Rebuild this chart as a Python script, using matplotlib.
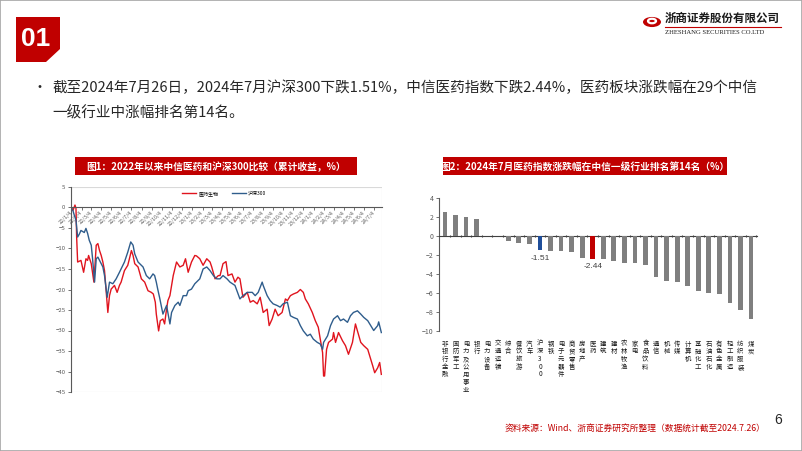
import matplotlib
matplotlib.use("Agg")
import matplotlib.pyplot as plt
import matplotlib.patches as mpatches
import matplotlib.transforms as mtrans
import pandas as pd

plt.rcParams['font.family'] = ['Noto Sans CJK SC', 'DejaVu Sans']

# ---- 图1: cumulative returns since 2022 (%) ----
pharma_dates = [
    "2022-01-04", "2022-01-09", "2022-01-15", "2022-01-18", "2022-01-20", "2022-01-23", "2022-02-02",
    "2022-02-10", "2022-02-17", "2022-02-22", "2022-02-25", "2022-03-05", "2022-03-13", "2022-03-20",
    "2022-03-25", "2022-03-30", "2022-04-04", "2022-04-09", "2022-04-14", "2022-04-24", "2022-04-29",
    "2022-05-04", "2022-05-14", "2022-05-22", "2022-05-29", "2022-06-03", "2022-06-13", "2022-06-23",
    "2022-06-28", "2022-07-04", "2022-07-09", "2022-07-14", "2022-07-24", "2022-08-03", "2022-08-13",
    "2022-08-23", "2022-09-02", "2022-09-08", "2022-09-14", "2022-09-17", "2022-09-24", "2022-09-29",
    "2022-10-07", "2022-10-12", "2022-10-18", "2022-10-22", "2022-10-28", "2022-11-07", "2022-11-17",
    "2022-11-27", "2022-12-07", "2022-12-14", "2022-12-22", "2023-01-01", "2023-01-11", "2023-01-16",
    "2023-01-26", "2023-02-05", "2023-02-16", "2023-02-26", "2023-03-03", "2023-03-13", "2023-03-23",
    "2023-03-28", "2023-04-06", "2023-04-15", "2023-04-21", "2023-05-03", "2023-05-12", "2023-05-21",
    "2023-05-27", "2023-06-05", "2023-06-18", "2023-06-27", "2023-07-06", "2023-07-18", "2023-07-27",
    "2023-08-05", "2023-08-17", "2023-08-23", "2023-09-01", "2023-09-10", "2023-09-19", "2023-10-01",
    "2023-10-11", "2023-10-17", "2023-10-26", "2023-11-04", "2023-11-16", "2023-11-25", "2023-12-04",
    "2023-12-10", "2023-12-19", "2023-12-31", "2024-01-09", "2024-01-18", "2024-01-24", "2024-01-31",
    "2024-02-03", "2024-02-06", "2024-02-12", "2024-02-18", "2024-03-01", "2024-03-04", "2024-03-10",
    "2024-03-16", "2024-03-19", "2024-03-31", "2024-04-09", "2024-04-18", "2024-04-30", "2024-05-09",
    "2024-05-15", "2024-05-25", "2024-06-03", "2024-06-15", "2024-06-24", "2024-06-30", "2024-07-06",
    "2024-07-15", "2024-07-21", "2024-07-26",
]
pharma_vals = [
    0, -0.7, 0.6, -0.2, -7.2, -13.3, -12.9,
    -15.8, -12.5, -12.9, -11.7, -13.7, -18.2, -9.2,
    -8.8, -10.5, -11.7, -13.3, -15.4, -25.6, -21.5,
    -19.9, -19.0, -20.7, -19.0, -18.2, -15.4, -14.1,
    -12.5, -10.5, -11.7, -13.7, -14.5, -17.4, -18.2,
    -20.3, -20.7, -21.1, -23.1, -26.0, -30.1, -27.6,
    -27.2, -28.4, -24.7, -22.7, -21.5, -16.6, -13.3,
    -14.5, -14.1, -12.5, -15.8, -13.3, -11.7, -11.8,
    -12.5, -14.1, -12.5, -13.3, -14.5, -17.4, -16.6,
    -16.6, -13.7, -13.2, -16.6, -16.2, -18.2, -17.0,
    -17.4, -21.9, -20.7, -23.1, -22.7, -23.5, -21.9,
    -25.6, -24.8, -28.8, -27.2, -24.8, -26.4, -25.6,
    -22.3, -22.7, -21.5, -21.1, -20.7, -20.0, -20.7,
    -22.3, -23.5, -25.6, -27.6, -29.2, -32.1, -35.4,
    -41.1, -41.1, -34.6, -32.9, -32.1, -30.5, -32.9,
    -31.3, -30.5, -32.5, -33.7, -35.8, -32.9, -28.4,
    -30.1, -32.9, -33.7, -34.6, -37.0, -38.6, -40.3,
    -39.1, -37.8, -40.7,
]
hs300_dates = [
    "2022-01-04", "2022-01-09", "2022-01-13", "2022-01-18", "2022-01-23", "2022-01-28", "2022-02-02",
    "2022-02-12", "2022-02-17", "2022-02-22", "2022-02-27", "2022-03-05", "2022-03-09", "2022-03-15",
    "2022-03-20", "2022-03-25", "2022-04-04", "2022-04-09", "2022-04-14", "2022-04-22", "2022-04-29",
    "2022-05-09", "2022-05-19", "2022-05-29", "2022-06-13", "2022-06-23", "2022-07-02", "2022-07-09",
    "2022-07-14", "2022-07-24", "2022-08-08", "2022-08-18", "2022-08-28", "2022-09-07", "2022-09-12",
    "2022-09-17", "2022-09-21", "2022-09-27", "2022-10-07", "2022-10-18", "2022-10-28", "2022-11-02",
    "2022-11-12", "2022-11-22", "2022-11-27", "2022-12-07", "2022-12-17", "2022-12-22", "2023-01-01",
    "2023-01-11", "2023-01-26", "2023-02-05", "2023-02-16", "2023-02-26", "2023-03-08", "2023-03-18",
    "2023-03-28", "2023-04-06", "2023-04-18", "2023-04-27", "2023-05-12", "2023-05-27", "2023-06-05",
    "2023-06-18", "2023-07-03", "2023-07-12", "2023-07-21", "2023-08-02", "2023-08-05", "2023-08-17",
    "2023-08-26", "2023-09-04", "2023-09-16", "2023-09-25", "2023-10-04", "2023-10-17", "2023-10-26",
    "2023-11-04", "2023-11-16", "2023-11-25", "2023-12-04", "2023-12-16", "2023-12-25", "2024-01-03",
    "2024-01-15", "2024-01-24", "2024-01-31", "2024-02-03", "2024-02-15", "2024-02-24", "2024-03-04",
    "2024-03-16", "2024-03-25", "2024-04-03", "2024-04-15", "2024-04-24", "2024-05-03", "2024-05-15",
    "2024-05-25", "2024-06-03", "2024-06-15", "2024-06-24", "2024-07-03", "2024-07-15", "2024-07-18",
    "2024-07-26",
]
hs300_vals = [
    0, -0.8, -1.9, -3.1, -7.2, -6.5, -5.6,
    -6.1, -5.1, -6.3, -8.0, -9.2, -12.5, -18.2,
    -12.5, -12.1, -13.7, -14.5, -16.6, -21.9, -18.2,
    -18.6, -17.4, -15.8, -13.3, -10.9, -8.4, -9.2,
    -11.3, -13.3, -14.5, -16.6, -17.4, -16.2, -16.6,
    -18.2, -19.8, -22.0, -26.0, -23.9, -28.4, -25.6,
    -23.9, -23.1, -23.9, -21.5, -21.5, -20.3, -19.9,
    -18.6, -17.4, -15.0, -14.5, -15.4, -16.6, -17.4,
    -17.4, -16.6, -17.4, -18.2, -19.0, -22.3, -21.5,
    -20.7, -20.7, -21.5, -20.7, -18.2, -19.0, -21.5,
    -22.7, -23.5, -23.9, -24.3, -23.5, -23.1, -26.4,
    -26.8, -27.2, -28.8, -30.1, -31.3, -30.9, -32.1,
    -32.9, -33.3, -34.6, -32.9, -31.3, -28.8, -27.2,
    -26.4, -27.6, -27.2, -28.0, -26.4, -25.6, -25.2,
    -26.0, -26.8, -27.6, -28.8, -30.0, -28.8, -27.9,
    -30.5,
]

# ---- 图2: July 2024 change by CITIC level-1 industry (%) ----
industries = ['非银行金融', '国防军工', '电力及公用事业', '银行', '电力设备', '交通运输', '综合',
              '餐饮旅游', '汽车', '沪深300', '钢铁', '电子元器件', '商贸零售', '房地产', '医药',
              '建筑', '建材', '农林牧渔', '家电', '食品饮料', '通信', '机械', '传媒', '计算机',
              '基础化工', '石油石化', '有色金属', '轻工制造', '纺织服装', '煤炭']
changes = [2.50, 2.25, 2.00, 1.76, 0.03, -0.05, -0.53, -0.74, -0.81, -1.51, -1.55, -1.58,
           -1.69, -2.29, -2.44, -2.46, -2.64, -2.82, -2.85, -3.06, -4.30, -4.72, -4.86, -5.28,
           -5.81, -5.95, -6.13, -7.04, -7.82, -8.70]

RED = "#C00000"; BLUE_L = "#2F5D8C"; RED_L = "#E0141E"; BLUE_B = "#1F4E9A"
GREY = "#7F7F7F"; INK = "#262626"; AX = "#595959"

W, H = 802, 451
fig = plt.figure(figsize=(W / 100, H / 100), dpi=100)
fig.patch.set_facecolor("white")

def fx(px): return px / W
def fy(py): return 1 - py / H

# slide frame
fig.patches.append(mpatches.Rectangle((0, 0), 1, 1, transform=fig.transFigure,
                                      fill=False, ec="#A6A6A6", lw=1.2))

# "01" badge with clipped corner
badge = mpatches.Polygon([(fx(16), fy(17)), (fx(60), fy(17)), (fx(60), fy(49)),
                          (fx(46), fy(62)), (fx(16), fy(62))],
                         closed=True, transform=fig.transFigure, fc=RED, ec="none")
fig.patches.append(badge)
fig.text(fx(36), fy(39), "01", color="white", fontsize=19, fontweight="bold",
         ha="center", va="center", family=["Liberation Sans", "DejaVu Sans"])

# logo
fig.patches.append(mpatches.Circle((fx(652), fy(22)), 9 / W, transform=fig.transFigure,
                                   fc=RED, ec="none"))
fig.patches.append(mpatches.Circle((fx(652), fy(21)), 4 / W, transform=fig.transFigure,
                                   fc="none", ec="white", lw=1.6))
fig.text(fx(665), fy(18), "浙商证券股份有限公司", fontsize=8.3, fontweight="bold",
         color="#1A1A1A", ha="left", va="center")
fig.lines.append(plt.Line2D([fx(665), fx(781)], [fy(26.5), fy(26.5)], transform=fig.transFigure,
                            color=RED, lw=0.8))
fig.text(fx(665), fy(33), "ZHESHANG SECURITIES CO.LTD", fontsize=4.8, color="#1A1A1A",
         ha="left", va="center", family=["Liberation Serif", "DejaVu Serif"])

# bullet text
fig.text(fx(40), fy(88), "•", fontsize=10, color=INK, ha="center", va="center")
fig.text(fx(52), fy(88), "截至2024年7月26日，2024年7月沪深300下跌1.51%，中信医药指数下跌2.44%，医药板块涨跌幅在29个中信",
         fontsize=10.5, color=INK, ha="left", va="center")
fig.text(fx(52), fy(113), "一级行业中涨幅排名第14名。", fontsize=10.5, color=INK, ha="left", va="center")

# chart title boxes
for x0, x1, txt in [(75, 357, "图1：2022年以来中信医药和沪深300比较（累计收益，%）"),
                    (443, 727, "图2：2024年7月医药指数涨跌幅在中信一级行业排名第14名（%）")]:
    fig.patches.append(mpatches.Rectangle((fx(x0), fy(175)), fx(x1 - x0), 18 / H,
                                          transform=fig.transFigure, fc=RED, ec="none"))
    fig.text(fx((x0 + x1) / 2), fy(166.5), txt, fontsize=7, fontweight="bold", color="white",
             ha="center", va="center")

# ---- left chart: lines ----
ax1 = fig.add_axes([fx(71), fy(392), fx(382 - 71), (392 - 187) / H])
pd_dates = pd.to_datetime(pharma_dates)
hs_dates = pd.to_datetime(hs300_dates)
ax1.plot(pd_dates, pharma_vals, color=RED_L, lw=1.0, label="医药生物")
ax1.plot(hs_dates, hs300_vals, color=BLUE_L, lw=1.0, label="沪深300")
ax1.set_ylim(-45, 5)
ax1.set_yticks(range(-45, 6, 5))
ax1.set_xlim(pd.Timestamp("2022-01-03"), pd.Timestamp("2024-07-28"))
ticks = [pd.Timestamp(y, m, 4) for y in (2022, 2023, 2024) for m in range(1, 13)
         if pd.Timestamp(y, m, 4) <= pd.Timestamp("2024-07-04")]
ax1.set_xticks(ticks)
ax1.set_xticklabels([f"{t.year % 100}/{t.month}/4" for t in ticks])
ax1.spines["bottom"].set_position(("data", 0))
for sp in ["top", "right"]:
    ax1.spines[sp].set_visible(False)
ax1.spines["left"].set_color(AX); ax1.spines["left"].set_linewidth(0.8)
ax1.spines["bottom"].set_color(AX); ax1.spines["bottom"].set_linewidth(0.8)
ax1.tick_params(axis="y", labelsize=4.3, colors=AX, length=2, width=0.6, pad=2)
ax1.tick_params(axis="x", labelsize=3.8, colors=AX, length=2, width=0.6, pad=1)
for lbl in ax1.get_xticklabels():
    lbl.set_rotation(45)
    lbl.set_rotation_mode("anchor")
    lbl.set_horizontalalignment("right")
    lbl.set_verticalalignment("center")
ax1.add_patch(mpatches.Rectangle((0, 0), 1, 1, transform=ax1.transAxes, fill=False,
                                 ec="#D9D9D9", lw=0.8, zorder=0))
ax1.legend(loc="upper left", bbox_to_anchor=(0.345, 1.0), ncol=2, frameon=False,
           fontsize=3.6, handlelength=2.8, handletextpad=0.5, columnspacing=2.6,
           borderaxespad=0.4)

# ---- right chart: bars ----
ax2 = fig.add_axes([fx(439), fy(331), fx(757 - 439), (331 - 198) / H])
xs = list(range(len(industries)))
colors = [BLUE_B if c == "沪深300" else (RED if c == "医药" else GREY) for c in industries]
ax2.bar(xs, changes, width=0.45, color=colors, zorder=3)
ax2.set_ylim(-10, 4)
ax2.set_yticks(range(-10, 5, 2))
ax2.set_xlim(-0.57, len(industries) - 0.43)
ax2.spines["bottom"].set_position(("data", 0))
for sp in ["top", "right"]:
    ax2.spines[sp].set_visible(False)
ax2.spines["left"].set_color(AX); ax2.spines["left"].set_linewidth(0.8)
ax2.spines["bottom"].set_color("#404040"); ax2.spines["bottom"].set_linewidth(0.8)
ax2.set_xticks([i + 0.5 for i in xs])
ax2.set_xticklabels([])
ax2.tick_params(axis="x", length=1.5, width=0.8, colors="#404040", direction="inout")
ax2.tick_params(axis="y", labelsize=5, colors=AX, length=2, width=0.6, pad=2)
for i, (c, v) in enumerate(zip(industries, changes)):
    if c in ("沪深300", "医药"):
        ax2.text(i, v - 0.45, f"{v:.2f}", ha="center", va="top", fontsize=6, color="#404040",
                 family=["Liberation Sans", "DejaVu Sans"])
lab_tr = mtrans.blended_transform_factory(ax2.transData, ax2.transAxes)
for i, c in enumerate(industries):
    ax2.text(i, -0.065, "\n".join(c), transform=lab_tr, ha="center", va="top", fontsize=4.6,
             color="#1A1A1A", linespacing=0.95)

# source & page number
fig.text(fx(505), fy(428), "资料来源：Wind、浙商证券研究所整理（数据统计截至2024.7.26）", fontsize=6.3,
         color=RED, ha="left", va="center")
fig.text(fx(778), fy(420), "6", fontsize=10, color="#262626", ha="center", va="center",
         family=["Liberation Sans", "DejaVu Sans"])

fig.savefig("out.png", dpi=100, facecolor="white")
